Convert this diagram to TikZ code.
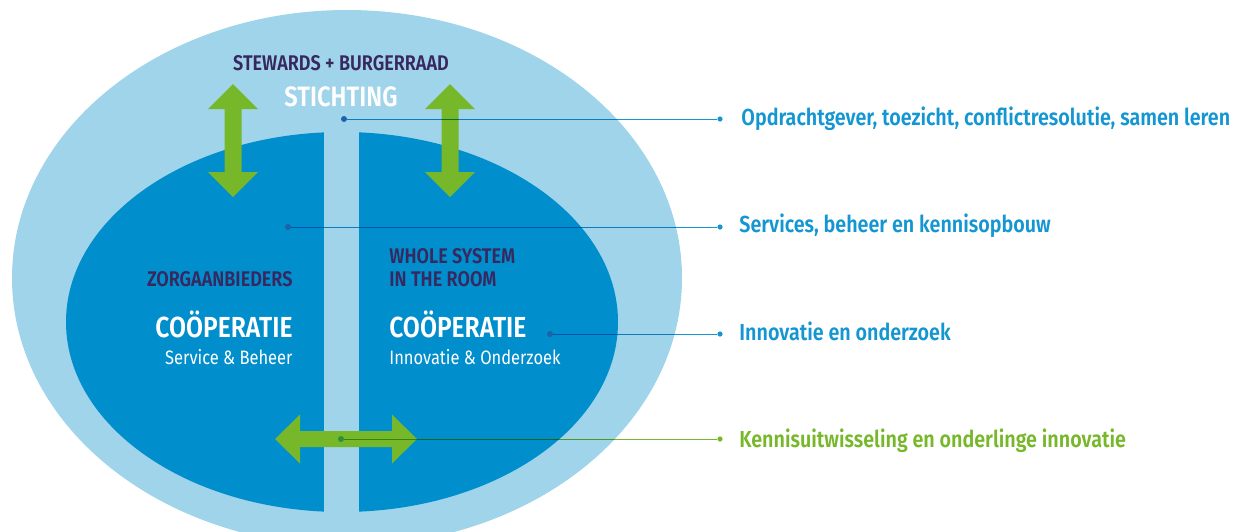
\documentclass[tikz,border=0pt]{standalone}
\usepackage{fontspec}
\setmainfont{Fira Sans}[FakeStretch=0.85,BoldFont={* SemiBold}]
\usepackage{tikz}

\definecolor{outerblue}{HTML}{A0D4EB}
\definecolor{innerblue}{HTML}{008ECC}
\definecolor{arrowgreen}{HTML}{76B82A}
\definecolor{linegreen}{HTML}{2E8F3A}
\definecolor{headpurple}{HTML}{37285F}
\definecolor{labelblue}{HTML}{1496D2}
\definecolor{dotblue}{HTML}{1B64AA}

\begin{document}
\begin{tikzpicture}[x=0.5pt,y=-0.5pt,
    lbl/.style={anchor=base west,inner sep=0pt,font=\bfseries\fontsize{11.6}{14}\selectfont},
    head/.style={inner sep=0pt,text=headpurple,font=\bfseries\fontsize{10.6}{12}\selectfont},
    coop/.style={inner sep=0pt,text=white,font=\bfseries\fontsize{14.5}{16}\selectfont},
    sub/.style={inner sep=0pt,text=white,font=\fontsize{9.7}{12}\selectfont},
    ldot/.style={circle,inner sep=0pt,minimum size=3pt},
    rdot/.style={circle,inner sep=0pt,minimum size=2.6pt},
    leader/.style={line width=0.5pt,blend mode=multiply}]
          \useasboundingbox (0,0) rectangle (1244,531);
          \clip (0,0) rectangle (1244,531);
          %% stichting round the two cooperaties
          \fill[outerblue] (347,278) ellipse (335 and 268);
          \fill[innerblue] (342,322) ellipse (276 and 190);
          \fill[outerblue] (324,120) rectangle (359,520);
          %% exchange arrows
          \fill[arrowgreen] (233,84) -- (258,109) -- (241.5,109) -- (241.5,172) -- (258,172) -- (233,197)
                -- (208,172) -- (224.5,172) -- (224.5,109) -- (208,109) -- cycle;
          \fill[arrowgreen] (450,84) -- (475,109) -- (458.5,109) -- (458.5,172) -- (475,172) -- (450,197)
                -- (425,172) -- (441.5,172) -- (441.5,109) -- (425,109) -- cycle;
          \fill[arrowgreen] (275,439) -- (300,414.5) -- (300,431) -- (392,431) -- (392,414.5) -- (417,439)
                -- (392,463.5) -- (392,447) -- (300,447) -- (300,463.5) -- cycle;
          %% texts inside
          \node[head,anchor=base] (stewards) at (341,70) {STEWARDS + BURGERRAAD};
          \node[coop,anchor=base,font=\bfseries\fontsize{14}{16}\selectfont] (stichting) at (341,106) {STICHTING};
          \node[head,anchor=base east] (zorg) at (293,286) {ZORGAANBIEDERS};         % left
          \node[coop,anchor=base east] (coopl) at (293,337) {COÖPERATIE};
          \node[sub,anchor=base east] (subl) at (293,364) {Service \& Beheer};
          \node[head,anchor=base west] (whole) at (389,263) {WHOLE SYSTEM};          % right
          \node[head,anchor=base west] (room) at (389,286) {IN THE ROOM};
          \node[coop,anchor=base west] (coopr) at (389,337) {COÖPERATIE};
          \node[sub,anchor=base west] (subr) at (389,364) {Innovatie \& Onderzoek};
          %% legend
          \node[lbl,text=labelblue] (opdracht) at (741,125) {Opdrachtgever, toezicht, conflictresolutie, samen leren};
          \node[lbl,text=labelblue] (services) at (739,232) {Services, beheer en kennisopbouw};
          \node[lbl,text=labelblue] (innovatie) at (739,340) {Innovatie en onderzoek};
          \node[lbl,text=arrowgreen] (kennis) at (739,447) {Kennisuitwisseling en onderlinge innovatie};
          \node[ldot,fill=dotblue] (d1) at (344,119) {};
          \node[ldot,fill=dotblue] (d2) at (288,227) {};
          \node[ldot,fill=dotblue] (d3) at (550,334) {};
          \node[ldot,fill=linegreen] (d4) at (341,439) {};
          \node[rdot,fill=labelblue] (r1) at (720,119) {};
          \node[rdot,fill=labelblue] (r2) at (720,227) {};
          \node[rdot,fill=labelblue] (r3) at (720,334) {};
          \node[rdot,fill=arrowgreen] (r4) at (720,439) {};
          \draw[leader,labelblue] (d1) -- (r1);
          \draw[leader,labelblue] (d2) -- (r2);
          \draw[leader,labelblue] (d3) -- (r3);
          \draw[leader,arrowgreen] (d4) -- (r4);
\end{tikzpicture}
\end{document}
